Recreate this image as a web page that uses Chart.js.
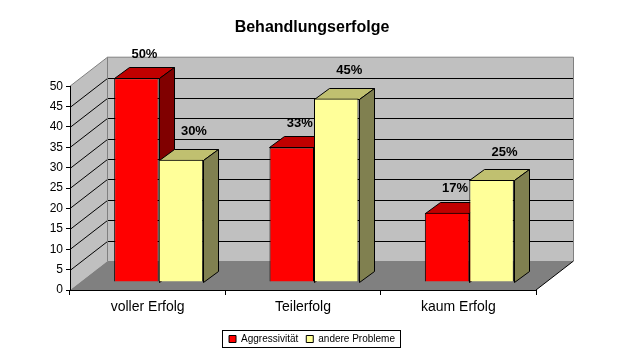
<!DOCTYPE html>
<html><head><meta charset="utf-8">
<style>html,body{margin:0;padding:0;background:#fff}#w{width:624px;height:356px;position:relative}</style>
<script src="https://cdn.jsdelivr.net/npm/chart.js@4"></script></head>
<body><div id="w"><canvas id="c" width="624" height="356"></canvas></div>
<script>
const categories = ["voller Erfolg", "Teilerfolg", "kaum Erfolg"];
const aggressivitaet = [50, 33, 17];
const andereProbleme = [30, 45, 25];
const seriesNames = ["Aggressivität", "andere Probleme"];
const yTicks = [0, 5, 10, 15, 20, 25, 30, 35, 40, 45, 50];
const chartTitle = "Behandlungserfolge";

const DX = 37.5, DY = 29;            // depth of the box
const BAR_DX = 15, BAR_DY = 11;      // depth of a bar
const SHIFT_X = 11, SHIFT_Y = 8;     // bars stand inside the floor
const faceCols = [["#c00000", "#800000"], ["#c0c070", "#808050"]];
const labelOff = [[8, -24], [13, -28]];

function poly(ctx, pts, fill, stroke) {
  ctx.beginPath();
  pts.forEach((p, i) => i ? ctx.lineTo(p[0], p[1]) : ctx.moveTo(p[0], p[1]));
  ctx.closePath();
  if (fill) { ctx.fillStyle = fill; ctx.fill(); }
  if (stroke) { ctx.strokeStyle = stroke; ctx.lineWidth = 1; ctx.stroke(); }
}
function line(ctx, x1, y1, x2, y2, col) {
  ctx.beginPath(); ctx.moveTo(x1, y1); ctx.lineTo(x2, y2);
  ctx.strokeStyle = col; ctx.lineWidth = 1; ctx.stroke();
}
const box3d = {
  id: "box3d",
  beforeDraw(chart) {
    const { ctx, scales: { y }, chartArea: a } = chart;
    const L = a.left, R = a.right;
    const y0 = y.getPixelForValue(0), yT = y.getPixelForValue(50);
    ctx.save();
    poly(ctx, [[L, y0], [L + DX, y0 - DY], [L + DX, yT - DY], [L, yT]], "#c0c0c0");
    poly(ctx, [[L + DX, y0 - DY], [R + DX, y0 - DY], [R + DX, yT - DY], [L + DX, yT - DY]], "#c0c0c0");
    poly(ctx, [[L, y0], [R, y0], [R + DX, y0 - DY], [L + DX, y0 - DY]], "#808080");
    yTicks.forEach(v => {
      if (v === 0 || v === 50) return;
      const p = Math.round(y.getPixelForValue(v)) + 0.5;
      line(ctx, L, p, L + DX, p - DY, "#000");
      line(ctx, L + DX, p - DY, R + DX, p - DY, "#000");
    });
    line(ctx, L, yT, L + DX, yT - DY, "#808080");
    line(ctx, L + DX, yT - DY, R + DX, yT - DY, "#808080");
    line(ctx, L + DX, yT - DY, L + DX, y0 - DY, "#808080");
    line(ctx, R + DX, yT - DY, R + DX, y0 - DY, "#808080");
    line(ctx, R, y0, R + DX, y0 - DY, "#000");
    ctx.restore();
  },
  beforeDatasetsDraw(chart) {
    const ctx = chart.ctx;
    ctx.save();
    ctx.translate(SHIFT_X, -SHIFT_Y);
    chart.data.datasets.forEach((d, i) => {
      chart.getDatasetMeta(i).data.forEach(b => {
        const l = Math.round(b.x - b.width / 2) + 0.5, r = Math.round(b.x + b.width / 2) + 0.5;
        const t = Math.round(b.y) + 0.5, bt = Math.round(b.base) + 0.5;
        poly(ctx, [[l, t], [r, t], [r + BAR_DX, t - BAR_DY], [l + BAR_DX, t - BAR_DY]], faceCols[i][0], "#000");
        poly(ctx, [[r, t], [r + BAR_DX, t - BAR_DY], [r + BAR_DX, bt - BAR_DY], [r, bt]], faceCols[i][1], "#000");
      });
    });
  },
  afterDatasetsDraw(chart) {
    const ctx = chart.ctx;
    ctx.restore();
    ctx.save();
    ctx.font = "bold 13px 'Liberation Sans'";
    ctx.fillStyle = "#000";
    ctx.textAlign = "center";
    ctx.textBaseline = "middle";
    chart.data.datasets.forEach((d, i) => {
      chart.getDatasetMeta(i).data.forEach((b, j) => {
        ctx.fillText(d.data[j] + "%", b.x + SHIFT_X + labelOff[i][0], b.y - SHIFT_Y + labelOff[i][1]);
      });
    });
    ctx.restore();
  },
  afterDraw(chart) {
    const hits = chart.legend.legendHitBoxes, ctx = chart.ctx;
    const first = hits[0], last = hits[hits.length - 1];
    const left = Math.round(first.left) - 6.5, right = Math.round(last.left + last.width) + 5.5;
    const top = Math.round(first.top + first.height / 2) - 8.5;
    ctx.save();
    ctx.strokeStyle = "#000"; ctx.lineWidth = 1;
    ctx.strokeRect(left, top, right - left, 17);
    ctx.restore();
  }
};

new Chart(document.getElementById("c"), {
  type: "bar",
  data: {
    labels: categories,
    datasets: [
      { label: seriesNames[0], data: aggressivitaet, backgroundColor: "#ff0000", borderColor: "#000", borderWidth: 1, clip: false },
      { label: seriesNames[1], data: andereProbleme, backgroundColor: "#ffff99", borderColor: "#000", borderWidth: 1, clip: false }
    ]
  },
  plugins: [box3d],
  options: {
    responsive: false,
    animation: false,
    categoryPercentage: 0.573,
    barPercentage: 1,
    layout: { padding: { left: 0, right: 0, top: 0, bottom: 2 } },
    plugins: {
      tooltip: { enabled: false },
      title: {
        display: true, text: chartTitle, color: "#000",
        font: { family: "'Liberation Sans'", size: 16, weight: "bold" },
        padding: { top: 18, bottom: 49 }
      },
      legend: {
        position: "bottom",
        labels: {
          color: "#000", boxWidth: 7, boxHeight: 7, padding: 8,
          font: { family: "'Liberation Sans'", size: 10 }
        }
      }
    },
    scales: {
      x: {
        grid: { display: true, drawOnChartArea: false, offset: true, color: "#000", tickLength: 5, tickColor: "#000" },
        border: { color: "#000" },
        ticks: { color: "#000", font: { family: "'Liberation Sans'", size: 14 }, padding: 4 },
        afterFit(s) { s.height = 36; }
      },
      y: {
        min: 0, max: 50,
        grid: { display: true, drawOnChartArea: false, color: "#000", tickLength: 4, tickColor: "#000" },
        border: { color: "#000" },
        ticks: { stepSize: 5, color: "#000", font: { family: "'Liberation Sans'", size: 12 }, padding: 3 },
        afterFit(s) { s.width = 70; }
      },
      spacer: {
        type: "linear", axis: "y", position: "right",
        grid: { display: false }, border: { display: false }, ticks: { display: false },
        afterFit(s) { s.width = 88; }
      }
    }
  }
});
</script></body></html>
